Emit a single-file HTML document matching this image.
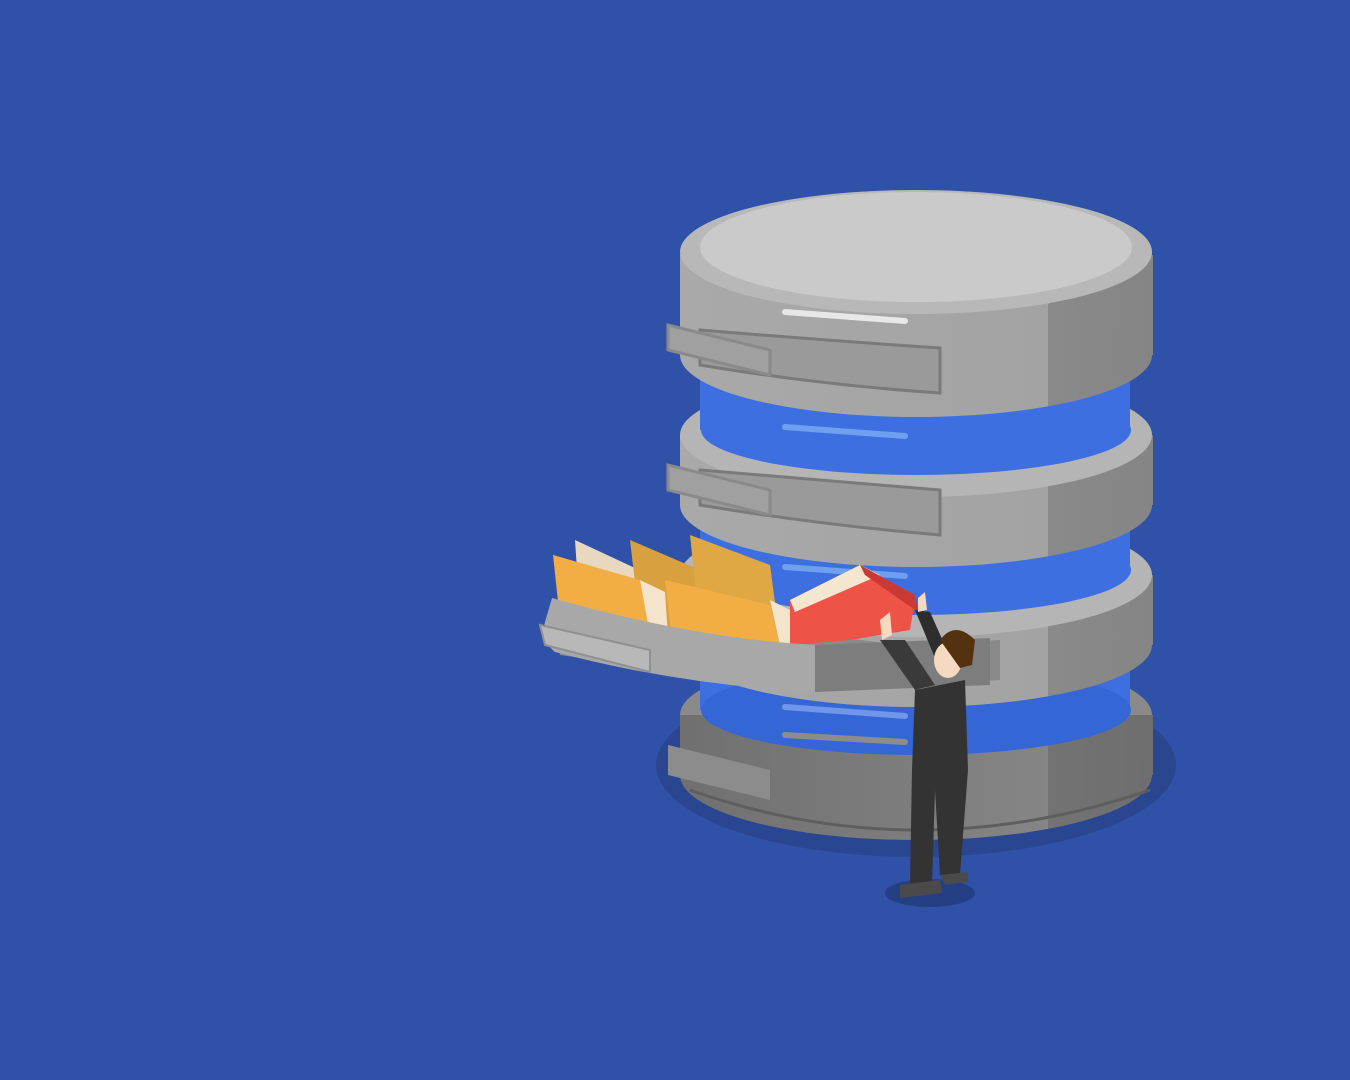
<!DOCTYPE html>
<html><head><meta charset="utf-8"><style>html,body{margin:0;padding:0;background:#2f52a8;}svg{display:block}</style></head>
<body>
<svg width="1350" height="1080" viewBox="0 0 1350 1080" xmlns="http://www.w3.org/2000/svg">
<defs>
<linearGradient id="side" x1="0" x2="1" y1="0" y2="0">
<stop offset="0" stop-color="#a9a9a9"/><stop offset="0.78" stop-color="#a3a3a3"/><stop offset="0.78" stop-color="#8a8a8a"/><stop offset="1" stop-color="#858585"/>
</linearGradient>
<linearGradient id="sideD" x1="0" x2="1" y1="0" y2="0">
<stop offset="0" stop-color="#707070"/><stop offset="0.78" stop-color="#858585"/><stop offset="0.78" stop-color="#737373"/><stop offset="1" stop-color="#6e6e6e"/>
</linearGradient>
</defs>
<rect width="1350" height="1080" fill="#2f52a8"/>
<ellipse cx="916" cy="765" rx="260" ry="92" fill="#2a4690"/>
<!-- bottom disk -->
<ellipse cx="916" cy="715" rx="236" ry="62" fill="#8a8a8a"/>
<rect x="680" y="715" width="473" height="60" fill="url(#sideD)"/>
<ellipse cx="916" cy="775" rx="236" ry="65" fill="url(#sideD)"/>
<path d="M690,790 Q916,870 1150,790" stroke="#5e5e5e" stroke-width="3" fill="none"/>
<path d="M668,745 L668,775 L770,800 L770,770 Z" fill="#8c8c8c"/>
<!-- band 3 -->
<rect x="700" y="640" width="430" height="70" fill="#3d6fe0"/>
<ellipse cx="916" cy="710" rx="215" ry="45" fill="#3566d6"/>
<path d="M785,707 L905,716" stroke="#6f96e8" stroke-width="6" stroke-linecap="round"/>
<path d="M785,735 L905,742" stroke="#8c8c8c" stroke-width="6" stroke-linecap="round"/>
<!-- disk 3 -->
<rect x="680" y="575" width="473" height="70" fill="url(#side)"/>
<ellipse cx="916" cy="645" rx="236" ry="62" fill="url(#side)"/>
<ellipse cx="916" cy="575" rx="236" ry="62" fill="#b5b5b5"/>
<!-- band 2 -->
<rect x="700" y="500" width="430" height="70" fill="#3d6fe0"/>
<ellipse cx="916" cy="570" rx="215" ry="45" fill="#3d6fe0"/>
<path d="M785,567 L905,576" stroke="#6fa0f0" stroke-width="6" stroke-linecap="round"/>
<!-- disk 2 -->
<rect x="680" y="435" width="473" height="70" fill="url(#side)"/>
<ellipse cx="916" cy="505" rx="236" ry="62" fill="url(#side)"/>
<ellipse cx="916" cy="435" rx="236" ry="62" fill="#b5b5b5"/>
<path d="M785,452 L905,462" stroke="#e0e0e0" stroke-width="6" stroke-linecap="round"/>
<path d="M700,470 Q820,480 940,490 L940,535 Q820,525 700,505 Z" fill="#9a9a9a" stroke="#7a7a7a" stroke-width="3"/>
<path d="M668,465 L668,490 L770,515 L770,490 Z" fill="#a0a0a0" stroke="#8a8a8a" stroke-width="3"/>
<!-- band 1 -->
<rect x="700" y="360" width="430" height="70" fill="#3d6fe0"/>
<ellipse cx="916" cy="430" rx="215" ry="45" fill="#3d6fe0"/>
<path d="M785,427 L905,436" stroke="#6fa0f0" stroke-width="6" stroke-linecap="round"/>
<!-- disk 1 -->
<rect x="680" y="255" width="473" height="100" fill="url(#side)"/>
<ellipse cx="916" cy="355" rx="236" ry="62" fill="url(#side)"/>
<ellipse cx="916" cy="252" rx="236" ry="62" fill="#b8b8b8"/>
<ellipse cx="916" cy="247" rx="216" ry="55" fill="#cacaca"/>
<path d="M785,312 L905,321" stroke="#e8e8e8" stroke-width="6" stroke-linecap="round"/>
<path d="M700,330 Q820,340 940,348 L940,393 Q820,385 700,365 Z" fill="#9a9a9a" stroke="#7a7a7a" stroke-width="3"/>
<path d="M668,325 L668,350 L770,375 L770,350 Z" fill="#a0a0a0" stroke="#8a8a8a" stroke-width="3"/>
<!-- drawer open -->
<path d="M555,600 L900,645 L1000,640 L1000,680 L815,690 L560,655 Z" fill="#8a8a8a"/>
<path d="M575,540 L650,575 L660,635 L580,615 Z" fill="#e8d8c0"/>
<path d="M630,540 L700,570 L710,640 L640,625 Z" fill="#d9a040"/>
<path d="M690,535 L770,565 L780,640 L700,630 Z" fill="#e0a845"/>
<path d="M553,555 L640,580 L650,635 L560,620 Z" fill="#f2ad45"/>
<path d="M640,580 L665,592 L668,636 L650,635 Z" fill="#f4e4cc"/>
<path d="M665,580 L770,605 L780,645 L672,640 Z" fill="#f2ad45"/>
<path d="M770,600 L790,610 L790,645 L780,645 Z" fill="#f4e4cc"/>
<path d="M790,600 L860,565 L915,600 L910,630 L850,640 L790,645 Z" fill="#ef5347"/>
<path d="M790,600 L860,565 L880,575 L795,612 Z" fill="#f5e6d0"/>
<path d="M860,565 L915,595 L918,612 L865,575 Z" fill="#c83a33"/>
<!-- drawer front -->
<path d="M552,598 Q700,640 820,645 L905,645 L905,690 L815,692 Q680,685 555,652 Q540,640 545,622 Z" fill="#a8a8a8"/>
<path d="M540,625 L650,650 L650,672 L545,645 Z" fill="#b8b8b8" stroke="#909090" stroke-width="2"/>
<path d="M815,645 L990,638 L990,685 L815,692 Z" fill="#7d7d7d"/>
<!-- person -->
<ellipse cx="930" cy="893" rx="45" ry="14" fill="#243f84"/>
<path d="M915,690 L965,680 L968,770 L960,875 L940,875 L935,790 L932,885 L910,885 L912,770 Z" fill="#333333"/>
<path d="M880,640 L915,690 L935,685 L905,640 Z" fill="#3a3a3a"/>
<path d="M915,610 L940,670 L955,668 L930,612 Z" fill="#2d2d2d"/>
<path d="M880,620 L890,612 L892,635 L882,640 Z" fill="#f5d9c0"/>
<path d="M918,598 L925,592 L927,610 L918,612 Z" fill="#f5d9c0"/>
<ellipse cx="948" cy="660" rx="14" ry="18" fill="#f5d9c0"/>
<path d="M940,640 Q955,620 975,640 L972,665 L960,668 Z" fill="#54320f"/>
<path d="M900,885 L940,880 L942,893 L900,898 Z" fill="#4a4a4a"/>
<path d="M940,875 L968,872 L968,882 L945,885 Z" fill="#4a4a4a"/>
</svg>
</body></html>
